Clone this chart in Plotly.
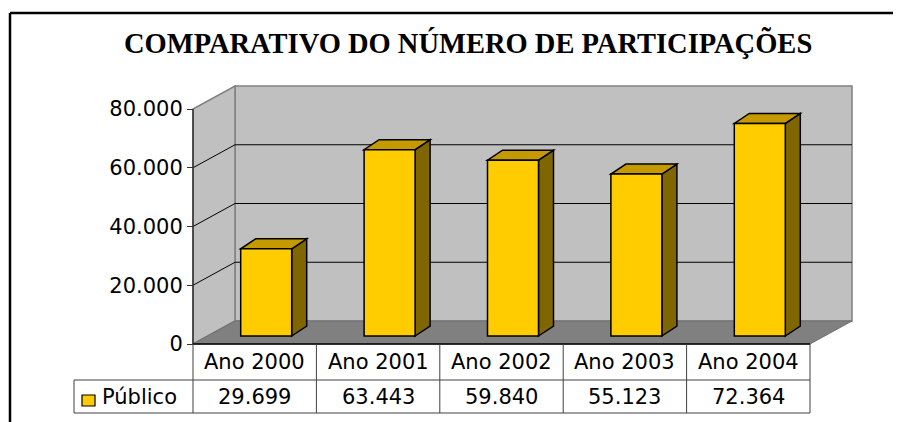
import plotly.graph_objects as go

# ---------------- data ----------------
categories = ["Ano 2000", "Ano 2001", "Ano 2002", "Ano 2003", "Ano 2004"]
values = [29699, 63443, 59840, 55123, 72364]
y_ticks = [0, 20000, 40000, 60000, 80000]
y_tick_labels = ["0", "20.000", "40.000", "60.000", "80.000"]
series_name = "Público"
title_text = "COMPARATIVO DO NÚMERO DE PARTICIPAÇÕES"

# ---------------- layout geometry ----------------
W, H = 901, 422
OFF = 8                          # page body margin offset compensation
X0_PX, Y0_PX = 193 - OFF, 344 - OFF   # pixel position of the origin (front plane)
PX_PER_CAT = 123.4               # pixels per category slot
PX_PER_VAL = 58.75 / 20000       # pixels per value unit
n = len(categories)
YMAX = y_ticks[-1]

x_range = [-X0_PX / PX_PER_CAT, (W - X0_PX) / PX_PER_CAT]
y_range = [-(H - Y0_PX) / PX_PER_VAL, Y0_PX / PX_PER_VAL]

def xd(px):
    return (px - OFF - X0_PX) / PX_PER_CAT

def yp(py):
    return 1 - (py - OFF) / H

def xp(px):
    return (px - OFF) / W

# 3-D depth offsets in data units
DX, DY = 42 / PX_PER_CAT, 23 / PX_PER_VAL      # wall depth
BX, BY = 11.5 / PX_PER_CAT, 8 / PX_PER_VAL     # bar front offset
BDX, BDY = 15 / PX_PER_CAT, 10 / PX_PER_VAL    # bar depth
BW = 51 / PX_PER_CAT                           # bar width

shapes = []

def poly(pts, fill, line, lw, layer="below"):
    path = "M " + " L ".join(f"{x},{y}" for x, y in pts) + " Z"
    shapes.append(dict(type="path", path=path, xref="x", yref="y",
                       fillcolor=fill, line=dict(color=line, width=lw), layer=layer))

def seg(x0, y0, x1, y1, color, lw, xref="x", yref="y", layer="below"):
    shapes.append(dict(type="line", x0=x0, y0=y0, x1=x1, y1=y1, xref=xref, yref=yref,
                       line=dict(color=color, width=lw), layer=layer))

# walls and floor
poly([(DX, DY), (n + DX, DY), (n + DX, YMAX + DY), (DX, YMAX + DY)], "#C0C0C0", "#808080", 1.5)
poly([(0, 0), (DX, DY), (DX, YMAX + DY), (0, YMAX)], "#C0C0C0", "#808080", 1.5)
poly([(0, 0), (n, 0), (n + DX, DY), (DX, DY)], "#808080", "#707070", 1)

# gridlines
for t in y_ticks[1:-1]:
    seg(DX, t + DY, n + DX, t + DY, "#000000", 1)
    seg(0, t, DX, t + DY, "#000000", 1)

# front axis line
seg(0, 0, 0, YMAX, "#333333", 1.5)

# bar side and top faces
for i, v in enumerate(values):
    xl = i + 0.5 - BW / 2 + BX
    xr = xl + BW
    yb, yt = BY, v + BY
    poly([(xr, yb), (xr + BDX, yb + BDY), (xr + BDX, yt + BDY), (xr, yt)], "#806600", "#000000", 1.5)
    poly([(xl, yt), (xr, yt), (xr + BDX, yt + BDY), (xl + BDX, yt + BDY)], "#C49A00", "#000000", 1.5)

# front faces as bars
fig = go.Figure(go.Bar(
    x=[i + 0.5 + BX for i in range(n)], y=values, base=BY, width=BW,
    marker=dict(color="#FFCC00", line=dict(color="#000000", width=1.5)),
    name=series_name, showlegend=False, hoverinfo="skip",
))

# data table
TBL_C = "#404040"
r0, r1, r2 = 344, 380, 413
leg_x = xd(74)
seg(0, yp(r0), n, yp(r0), "#000000", 1.5, yref="paper", layer="above")
seg(leg_x, yp(r1), n, yp(r1), TBL_C, 1, yref="paper", layer="above")
seg(leg_x, yp(r2), n, yp(r2), TBL_C, 1, yref="paper", layer="above")
for i in range(n + 1):
    seg(i, yp(r0), i, yp(r2), TBL_C, 1, yref="paper", layer="above")
seg(leg_x, yp(r1), leg_x, yp(r2), TBL_C, 1, yref="paper", layer="above")

# legend key
shapes.append(dict(type="rect", x0=xd(82), x1=xd(95), y0=yp(395), y1=yp(406),
                   xref="x", yref="paper", fillcolor="#FFCC00",
                   line=dict(color="#000000", width=1.2), layer="above"))

# outer frame
seg(xp(10), 0, xp(10), yp(13), "#000000", 2.5, xref="paper", yref="paper", layer="above")
seg(xp(10), yp(13), 1, yp(13), "#000000", 2.5, xref="paper", yref="paper", layer="above")

TXT_FONT = dict(family="DejaVu Sans", size=21, color="#000000")

annotations = []
for i, (c, v) in enumerate(zip(categories, values)):
    annotations.append(dict(x=i + 0.5, y=yp((r0 + r1) / 2), xref="x", yref="paper",
                            text=c, showarrow=False, font=TXT_FONT,
                            xanchor="center", yanchor="middle"))
    annotations.append(dict(x=i + 0.5, y=yp((r1 + r2) / 2), xref="x", yref="paper",
                            text=f"{v:,}".replace(",", "."), showarrow=False, font=TXT_FONT,
                            xanchor="center", yanchor="middle"))
annotations.append(dict(x=xd(100), y=yp((r1 + r2) / 2), xref="x", yref="paper",
                        text=series_name, showarrow=False, font=TXT_FONT,
                        xanchor="left", yanchor="middle"))
annotations.append(dict(x=xp(467.5), y=yp(43), xref="paper", yref="paper",
                        text="<b>" + title_text + "</b>", showarrow=False,
                        font=dict(family="Liberation Serif", size=28.5, color="#000000"),
                        xanchor="center", yanchor="middle"))

fig.update_layout(
    width=W, height=H, autosize=False,
    margin=dict(l=0, r=0, t=0, b=0),
    paper_bgcolor="#FFFFFF", plot_bgcolor="#FFFFFF",
    showlegend=False,
    xaxis=dict(range=x_range, visible=False, fixedrange=True),
    yaxis=dict(range=y_range, anchor="free", position=X0_PX / W, side="left",
               tickvals=y_ticks, ticktext=y_tick_labels, ticks="outside", ticklen=6,
               tickcolor="#333333", tickwidth=1.2, tickfont=TXT_FONT,
               showgrid=False, zeroline=False, showline=False, automargin=False,
               fixedrange=True),
    shapes=shapes,
    annotations=annotations,
)

fig.write_html("out.html")
